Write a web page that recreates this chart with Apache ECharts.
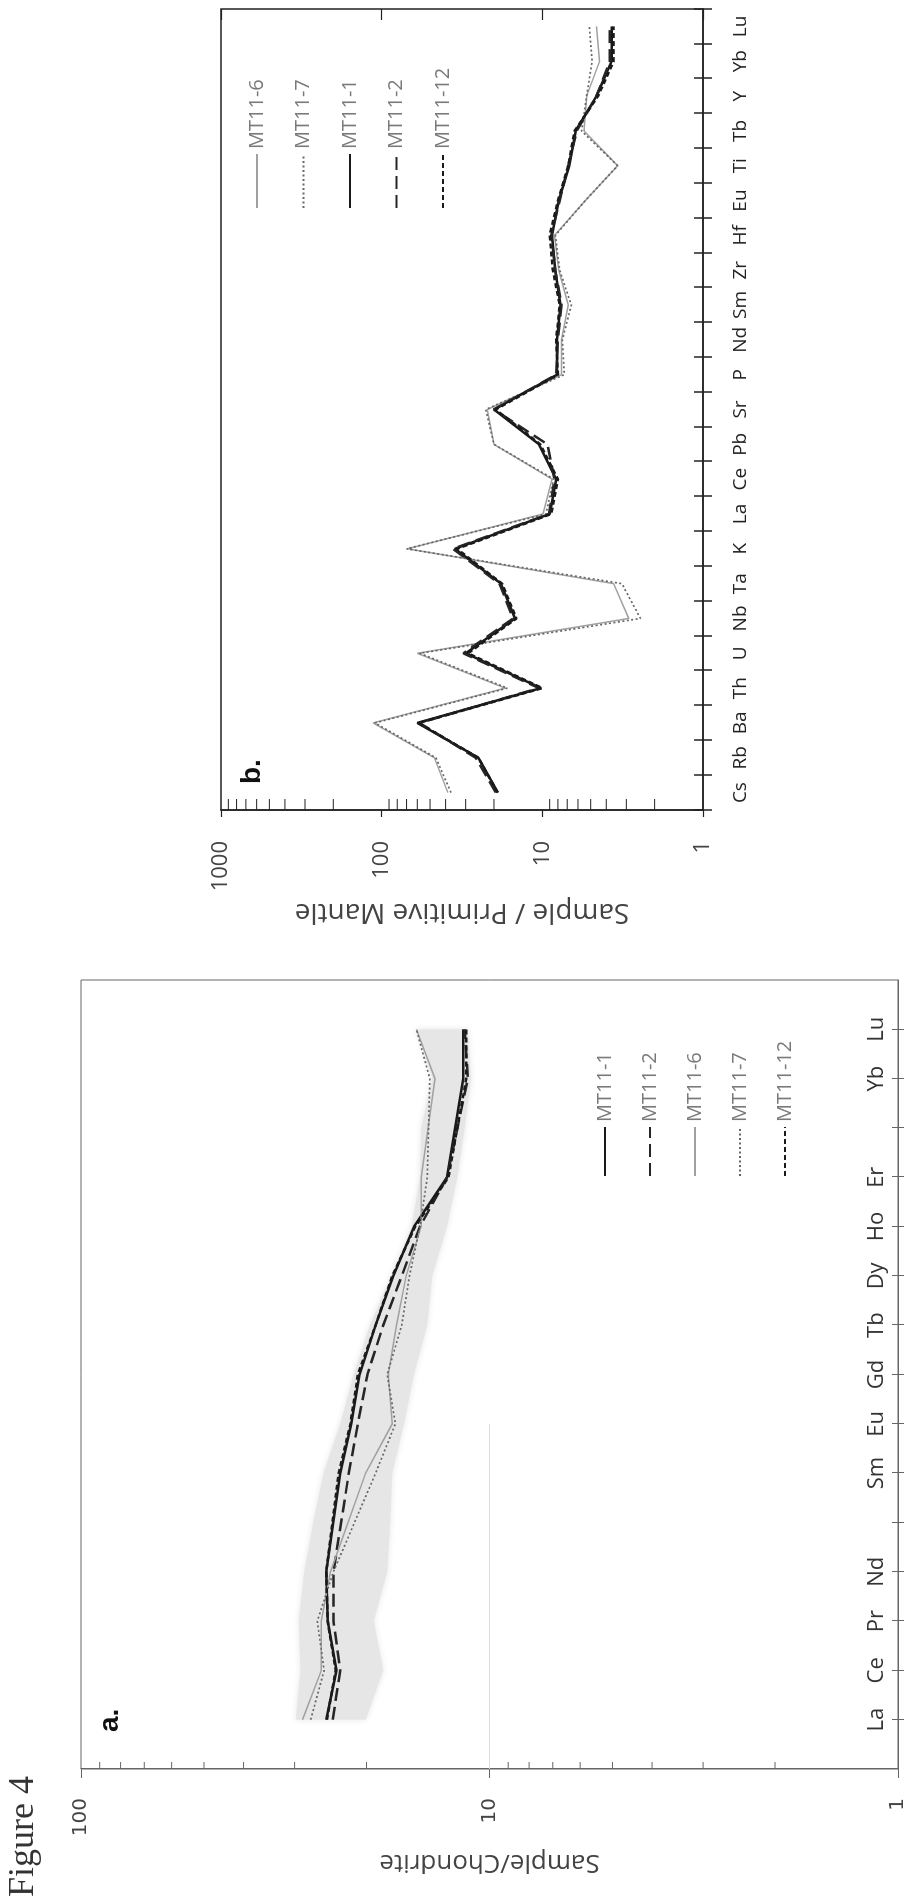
<!DOCTYPE html>
<html><head><meta charset="utf-8">
<script src="https://cdn.jsdelivr.net/npm/echarts@6.0.0/dist/echarts.min.js"></script>
<style>
html,body{margin:0;padding:0;background:#fff;overflow:hidden;width:910px;height:1898px;}
#wrap{position:absolute;left:0;top:1898px;width:1898px;height:910px;transform-origin:0 0;transform:rotate(-90deg);}
#chart{width:1898px;height:910px;}
</style></head><body><div id="wrap"><div id="chart"></div></div>
<script>
// ---------- Panel a: REE, chondrite normalised ----------
const catsA = ['La','Ce','Pr','Nd','','Sm','Eu','Gd','Tb','Dy','Ho','Er','','Yb','Lu'];
const a_MT11_1  = [25.1,23.7,24.9,25.1,null,23.2,21.8,20.8,19.0,17.2,15.3,12.7,null,11.6,11.6];
const a_MT11_2  = [24.2,23.2,24.1,24.1,null,22.1,21.0,19.9,18.2,16.4,14.8,12.7,null,11.3,11.5];
const a_MT11_6  = [28.7,25.8,25.8,24.5,null,20.1,17.3,17.7,16.9,16.0,14.7,14.7,null,13.6,15.1];
const a_MT11_7  = [27.4,25.4,26.4,24.1,null,19.0,17.0,17.8,16.4,15.7,14.8,14.2,null,14.0,15.1];
const a_MT11_12 = [25.0,23.8,24.9,25.1,null,23.4,21.9,21.0,19.0,17.3,15.2,12.6,null,11.4,11.4];
const bandHighA = [29.8,29.0,29.3,28.4,27.0,25.5,23.2,21.5,19.6,17.4,15.5,14.8,14.7,13.8,15.1];
const bandLowA  = [20.1,18.2,19.2,17.8,17.5,17.3,16.2,15.3,14.2,13.8,12.7,12.0,11.5,11.1,11.3];
const minorTicksA = [2,3,4,5,6,7,8,9,20,30,40,50,60,70,80,90];
const legendA = ['MT11-1','MT11-2','MT11-6','MT11-7','MT11-12'];

// ---------- Panel b: spider diagram, primitive mantle normalised ----------
const catsB = ['Cs','Rb','Ba','Th','U','Nb','Ta','K','La','Ce','Pb','Sr','P','Nd','Sm','Zr','Hf','Eu','Ti','Tb','Y','Yb','Lu'];
const b_MT11_1  = [18.9,25,60,10.2,30,14.8,18.1,35,9.0,8.2,10.5,20,8.1,8.1,7.7,8.3,8.7,7.9,6.8,6.2,4.6,3.7,3.7];
const b_MT11_2  = [19.5,26,58,10.5,31,15.2,18.5,36,9.1,8.4,9.3,20,8.2,8.0,7.6,8.3,8.8,7.8,6.9,6.1,4.6,3.8,3.8];
const b_MT11_12 = [19.0,25,59,10.0,29,14.5,17.8,34,8.8,8.0,10.3,19.5,8.0,8.2,7.8,8.6,9.0,8.0,6.9,6.3,4.5,3.6,3.6];
const b_MT11_6  = [38.7,47,113,17,60,2.9,3.6,69,9.9,8.7,20,22,7.6,7.6,6.9,7.9,8.4,5.4,3.4,5.5,5.3,4.4,4.6];
const b_MT11_7  = [37,46,110,16.5,58,2.45,3.2,70,9.5,8.5,20,22.5,7.3,7.5,6.6,7.8,8.3,5.4,3.4,5.7,5.3,4.9,5.1];
const minorTicksB = [2,3,4,5,6,7,8,9,20,30,40,50,60,70,80,90,200,300,400,500,600,700,800,900];
const legendB = ['MT11-6','MT11-7','MT11-1','MT11-2','MT11-12'];

const styles = {
  'MT11-1':  {color:'#1a1a1a', width:2.5, type:'solid'},
  'MT11-2':  {color:'#262626', width:2.5, type:[13,6]},
  'MT11-6':  {color:'#a0a0a0', width:1.5, type:'solid'},
  'MT11-7':  {color:'#666666', width:1.7, type:[2,2.5]},
  'MT11-12': {color:'#1a1a1a', width:2.5, type:[5,3]}
};

function lineA(name, vals){
  const data = [];
  vals.forEach((v,i)=>{ if(v!=null) data.push([i+1, v]); });
  const s = styles[name];
  return {name, type:'line', xAxisIndex:0, yAxisIndex:0, data, symbol:'none', showSymbol:false,
    z:5, lineStyle:{color:s.color, width:s.width, type:s.type}, itemStyle:{color:s.color}, animation:false};
}
function lineB(name, vals){
  const s = styles[name];
  return {name, type:'line', xAxisIndex:2, yAxisIndex:2, data:vals, symbol:'none', showSymbol:false,
    z:5, lineStyle:{color:s.color, width:s.width, type:s.type}, itemStyle:{color:s.color}, animation:false};
}
function minorTickSeries(xi, yi, vals, len, color){
  return {type:'custom', xAxisIndex:xi, yAxisIndex:yi, silent:true, z:6, animation:false,
    data: vals.map(v=>[0, v]),
    renderItem:(params, api)=>{
      const y = api.coord([api.value(0), api.value(1)])[1];
      const x0 = params.coordSys.x;
      return {type:'line', shape:{x1:x0, y1:y, x2:x0+len, y2:y}, style:{stroke:color, lineWidth:1}};
    }};
}

const chart = echarts.init(document.getElementById('chart'), null, {renderer:'canvas', width:1898, height:910});

const catAxisA = {
  gridIndex:0, type:'value', min:0, max:16, interval:1, position:'bottom',
  axisLine:{show:true, lineStyle:{color:'#666', width:1}},
  splitLine:{show:false}
};
const logAxisA = {gridIndex:0, type:'log', logBase:10, min:1, max:100, splitLine:{show:false}};

const catAxisB = {
  gridIndex:1, type:'category', data:catsB, boundaryGap:true, position:'bottom',
  axisLine:{show:true, lineStyle:{color:'#222', width:1.5}}, splitLine:{show:false}
};
const logAxisB = {gridIndex:1, type:'log', logBase:10, min:1, max:1000, splitLine:{show:false}};

const hiddenIcon = {color:'rgba(0,0,0,0)', borderColor:'rgba(0,0,0,0)', borderWidth:0, opacity:0};

const option = {
  backgroundColor:'#fff',
  animation:false,
  grid:[
    {left:129, top:81, width:789, height:817, show:true, borderColor:'#666', borderWidth:1, backgroundColor:'transparent'},
    {left:1088, top:221, width:801, height:482, show:true, borderColor:'#222', borderWidth:1.5, backgroundColor:'transparent'}
  ],
  xAxis:[
    Object.assign({}, catAxisA, {
      axisTick:{show:true, inside:false, length:6, lineStyle:{color:'#666'}, customValues:catsA.map((c,i)=>i+1)},
      axisLabel:{show:true, inside:true, margin:10, fontSize:22, color:'#333', fontFamily:'Open Sans',
        customValues:catsA.map((c,i)=>i+1),
        formatter:(v)=> (v>=1 && v<=catsA.length) ? catsA[v-1] : ''}
    }),
    Object.assign({}, catAxisA, {
      axisLine:{show:false},
      axisTick:{show:true, inside:true, length:6, lineStyle:{color:'#666'}, customValues:catsA.map((c,i)=>i+1)},
      axisLabel:{show:false}
    }),
    Object.assign({}, catAxisB, {
      axisTick:{show:true, inside:false, length:9, interval:0, lineStyle:{color:'#222', width:1.5}},
      axisLabel:{show:true, interval:0, margin:28, fontSize:19, color:'#222', fontFamily:'Open Sans'}
    }),
    Object.assign({}, catAxisB, {
      axisLine:{show:false},
      axisTick:{show:true, inside:true, length:9, interval:0, lineStyle:{color:'#222', width:1.5}},
      axisLabel:{show:false}
    })
  ],
  yAxis:[
    Object.assign({}, logAxisA, {
      axisLine:{show:true, lineStyle:{color:'#666'}},
      axisTick:{show:true, inside:false, length:9, lineStyle:{color:'#666'}},
      axisLabel:{show:true, margin:29, fontSize:20, color:'#444', fontFamily:'DejaVu Sans', formatter:(v)=>String(Math.round(v))},
      name:'Sample/Chondrite', nameLocation:'middle', nameGap:80,
      nameTextStyle:{fontSize:26, color:'#444', fontFamily:'Open Sans'}
    }),
    Object.assign({}, logAxisA, {
      axisLine:{show:false},
      axisTick:{show:true, inside:true, length:8, lineStyle:{color:'#666'}},
      axisLabel:{show:false}
    }),
    Object.assign({}, logAxisB, {
      axisLine:{show:true, lineStyle:{color:'#222', width:1.5}},
      axisTick:{show:true, inside:false, length:7, lineStyle:{color:'#222', width:1.2}},
      axisLabel:{show:true, margin:31, fontSize:22, color:'#444', fontFamily:'Open Sans', formatter:(v)=>String(Math.round(v))},
      name:'Sample / Primitive Mantle', nameLocation:'middle', nameGap:88,
      nameTextStyle:{fontSize:28, color:'#444', fontFamily:'Open Sans'}
    }),
    Object.assign({}, logAxisB, {
      axisLine:{show:false},
      axisTick:{show:true, inside:true, length:11, lineStyle:{color:'#222', width:1.2}},
      axisLabel:{show:false}
    })
  ],
  legend:[
    {data:legendA, orient:'vertical', left:721, top:595, itemWidth:49, itemHeight:14, itemGap:25, padding:0,
      itemStyle:hiddenIcon,
      textStyle:{fontSize:20, lineHeight:20, color:'#7a7a7a', fontFamily:'Open Sans'}, selectedMode:false},
    {data:legendB, orient:'vertical', left:1689, top:247, itemWidth:54, itemHeight:14, itemGap:26.5, padding:0,
      itemStyle:hiddenIcon,
      textStyle:{fontSize:20, lineHeight:20, color:'#7a7a7a', fontFamily:'Open Sans'}, selectedMode:false}
  ],
  graphic:[
    {type:'text', left:1, top:6, style:{text:'Figure 4', font:'36px "Liberation Serif"', fill:'#333'}},
    {type:'text', x:166, y:110, style:{text:'a.', font:'bold 28px "Liberation Sans"', fill:'#111', verticalAlign:'middle'}},
    {type:'text', x:1114, y:252, style:{text:'b.', font:'bold 28px "Liberation Sans"', fill:'#111', verticalAlign:'middle'}}
  ],
  series:[
    {type:'custom', xAxisIndex:0, yAxisIndex:0, silent:true, z:1, data:[[1, bandHighA[0]]],
      renderItem:(params, api)=>{
        const pts = [];
        bandHighA.forEach((v,i)=>pts.push(api.coord([i+1, v])));
        for(let i=bandLowA.length-1;i>=0;i--) pts.push(api.coord([i+1, bandLowA[i]]));
        return {type:'polygon', shape:{points:pts}, style:{fill:'#e6e6e6', shadowBlur:6, shadowColor:'#e6e6e6'}};
      }},
    Object.assign(lineA('MT11-1', a_MT11_1), {markLine:{silent:true, symbol:'none', label:{show:false},
      lineStyle:{color:'#dcdcdc', width:1, type:'solid'}, data:[[{coord:[0,10]},{coord:[7,10]}]]}}),
    lineA('MT11-2', a_MT11_2),
    lineA('MT11-6', a_MT11_6),
    lineA('MT11-7', a_MT11_7),
    lineA('MT11-12', a_MT11_12),
    minorTickSeries(0, 0, minorTicksA, 7, '#666'),
    lineB('MT11-6', b_MT11_6),
    lineB('MT11-7', b_MT11_7),
    lineB('MT11-1', b_MT11_1),
    lineB('MT11-2', b_MT11_2),
    lineB('MT11-12', b_MT11_12),
    minorTickSeries(2, 2, minorTicksB, 11, '#222')
  ]
};
chart.setOption(option);
</script></body></html>
